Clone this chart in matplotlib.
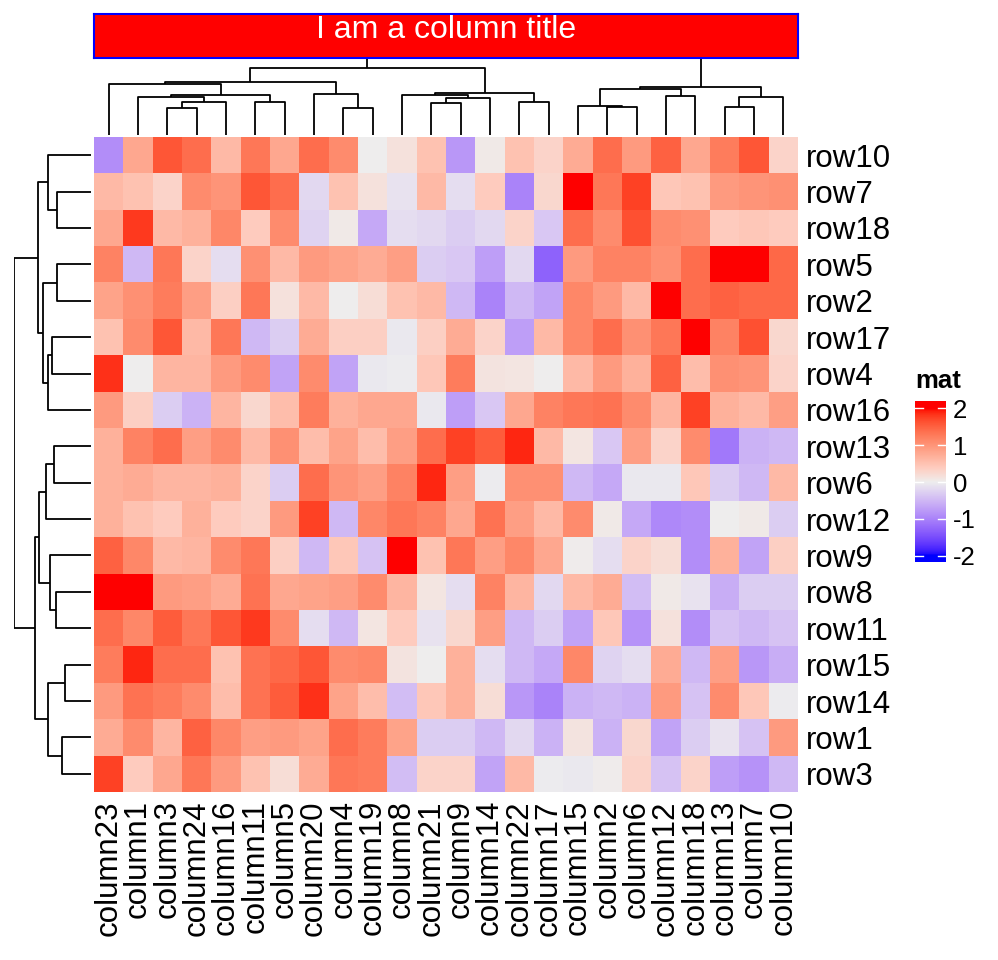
import numpy as np
import matplotlib
matplotlib.use("Agg")
import matplotlib.pyplot as plt
from matplotlib.colors import ListedColormap, Normalize

plt.rcParams['font.family'] = ['Liberation Sans', 'DejaVu Sans']

# 数据：行、列顺序与聚类后的显示顺序一致
row_labels = ['row10', 'row7', 'row18', 'row5', 'row2', 'row17', 'row4', 'row16', 'row13',
              'row6', 'row12', 'row9', 'row8', 'row11', 'row15', 'row14', 'row1', 'row3']
col_labels = ['column23', 'column1', 'column3', 'column24', 'column16', 'column11', 'column5',
              'column20', 'column4', 'column19', 'column8', 'column21', 'column9', 'column14',
              'column22', 'column17', 'column15', 'column2', 'column6', 'column12', 'column18',
              'column13', 'column7', 'column10']
values = [
    [-0.9, 0.8, 1.6, 1.4, 0.6, 1.3, 0.8, 1.4, 1.1, 0.0, 0.15, 0.5, -0.8, 0.05, 0.5, 0.3, 0.75, 1.4, 0.95, 1.5, 0.8, 1.25, 1.6, 0.3],
    [0.6, 0.5, 0.3, 1.1, 1.0, 1.6, 1.4, -0.2, 0.5, 0.15, -0.1, 0.6, -0.15, 0.4, -1.0, 0.25, 2.2, 1.3, 1.75, 0.45, 0.5, 0.95, 1.0, 1.05],
    [0.8, 1.8, 0.6, 0.7, 1.15, 0.4, 1.1, -0.25, 0.05, -0.65, -0.15, -0.2, -0.3, -0.2, 0.3, -0.35, 1.4, 1.1, 1.65, 1.1, 1.05, 0.4, 0.45, 0.4],
    [1.2, -0.5, 1.3, 0.3, -0.15, 1.05, 0.6, 0.95, 0.85, 0.75, 0.9, -0.3, -0.35, -0.75, -0.2, -1.3, 0.95, 1.2, 1.2, 1.05, 1.4, 2.2, 2.2, 1.45],
    [0.85, 1.05, 1.25, 0.9, 0.35, 1.3, 0.15, 0.6, 0.0, 0.2, 0.5, 0.6, -0.5, -1.0, -0.5, -0.7, 1.15, 0.95, 0.6, 2.1, 1.4, 1.5, 1.45, 1.45],
    [0.5, 1.1, 1.6, 0.6, 1.3, -0.5, -0.3, 0.75, 0.35, 0.35, -0.05, 0.35, 0.75, 0.3, -0.75, 0.6, 1.15, 1.4, 1.05, 1.3, 2.1, 1.2, 1.65, 0.25],
    [1.85, 0.0, 0.65, 0.65, 0.95, 1.1, -0.7, 1.1, -0.7, -0.05, -0.03, 0.45, 1.25, 0.12, 0.1, 0.0, 0.6, 0.95, 0.7, 1.5, 0.55, 1.05, 1.0, 0.3],
    [0.95, 0.35, -0.3, -0.55, 0.65, 0.25, 0.55, 1.25, 0.7, 0.8, 0.8, -0.05, -0.75, -0.35, 0.8, 1.2, 1.3, 1.35, 1.1, 0.65, 1.75, 0.7, 0.6, 0.9],
    [0.7, 1.2, 1.4, 0.9, 1.1, 0.6, 1.05, 0.55, 0.85, 0.55, 0.9, 1.4, 1.75, 1.55, 1.9, 0.6, 0.1, -0.35, 0.9, 0.3, 1.1, -1.1, -0.55, -0.5],
    [0.7, 0.75, 0.65, 0.65, 0.7, 0.3, -0.3, 1.4, 1.0, 0.9, 1.2, 1.9, 0.9, -0.02, 1.05, 1.05, -0.5, -0.65, -0.05, -0.05, 0.45, -0.3, -0.5, 0.6],
    [0.7, 0.5, 0.4, 0.7, 0.4, 0.3, 0.95, 1.75, -0.5, 1.15, 1.3, 1.2, 0.8, 1.35, 0.9, 0.6, 1.1, 0.05, -0.65, -0.95, -0.9, 0.0, 0.05, -0.3],
    [1.5, 1.15, 0.6, 0.65, 1.1, 1.3, 0.35, -0.5, 0.45, -0.4, 2.0, 0.5, 1.3, 0.9, 1.15, 0.8, 0.02, -0.15, 0.3, 0.2, -0.9, 0.7, -0.7, 0.35],
    [2.0, 2.3, 0.95, 0.9, 0.75, 1.35, 0.8, 0.85, 0.9, 1.1, 0.65, 0.1, -0.15, 1.2, 0.65, -0.2, 0.6, 0.75, -0.45, 0.05, -0.1, -0.6, -0.3, -0.3],
    [1.4, 1.15, 1.55, 1.3, 1.6, 1.8, 1.1, -0.15, -0.5, 0.1, 0.4, -0.1, 0.25, 0.9, -0.5, -0.3, -0.7, 0.45, -0.85, 0.15, -0.9, -0.4, -0.5, -0.4],
    [1.25, 1.9, 1.4, 1.4, 0.5, 1.35, 1.45, 1.6, 1.1, 1.15, 0.12, 0.0, 0.7, -0.15, -0.5, -0.65, 1.15, -0.25, -0.15, 0.75, -0.5, 0.9, -0.8, -0.6],
    [0.95, 1.35, 1.25, 1.1, 0.55, 1.35, 1.55, 1.85, 0.85, 0.55, -0.45, 0.45, 0.7, 0.2, -0.8, -1.0, -0.55, -0.5, -0.55, 0.95, -0.4, 1.1, 0.45, -0.02],
    [0.75, 1.1, 0.65, 1.5, 1.15, 0.9, 0.95, 0.85, 1.4, 1.25, 0.85, -0.3, -0.3, -0.5, -0.2, -0.55, 0.12, -0.55, 0.25, -0.7, -0.3, -0.1, -0.4, 0.95],
    [1.75, 0.4, 0.8, 1.3, 0.95, 0.5, 0.2, 0.75, 1.3, 1.25, -0.45, 0.3, 0.3, -0.7, 0.6, -0.02, -0.05, 0.03, 0.3, -0.4, 0.3, -0.75, -0.85, -0.5],
]

# 聚类树：(子节点a, 子节点b, 合并高度)，叶子编号即显示顺序，新节点依次编号
col_merges = [(2, 3, 26.7), (24, 4, 33.3), (1, 25, 37.7), (5, 6, 32.7), (26, 27, 40.0),
              (0, 28, 51.5), (8, 9, 27.3), (7, 30, 41.0), (29, 31, 52.7), (11, 12, 31.7),
              (33, 13, 37.3), (10, 34, 40.5), (14, 15, 32.7), (35, 36, 41.7), (32, 37, 66.7),
              (17, 18, 28.3), (16, 39, 29.3), (19, 20, 39.3), (40, 41, 45.7), (21, 22, 28.3),
              (43, 23, 37.7), (42, 44, 48.3), (38, 45, 77.0)]
row_merges = [(1, 2, 33.7), (0, 18, 42.7), (3, 4, 33.7), (5, 6, 39.3), (21, 7, 43.3),
              (20, 22, 47.7), (19, 23, 53.3), (8, 9, 36.7), (25, 10, 45.3), (12, 13, 35.0),
              (11, 27, 41.0), (26, 28, 51.7), (14, 15, 26.0), (16, 17, 29.3), (30, 31, 43.3),
              (29, 32, 56.0), (24, 33, 77.0)]

legend_ticks = [-2, -1, 0, 1, 2]
color_breaks = [-2, 0, 2]
color_list = ['#0000FF', '#EEEEEE', '#FF0000']


def srgb_to_lab(hexcol):
    c = np.array(matplotlib.colors.to_rgb(hexcol))
    lin = np.where(c <= 0.04045, c / 12.92, ((c + 0.055) / 1.055) ** 2.4)
    m = np.array([[0.4124, 0.3576, 0.1805], [0.2126, 0.7152, 0.0722], [0.0193, 0.1192, 0.9505]])
    xyz = m @ lin / np.array([0.95047, 1.0, 1.08883])
    f = np.where(xyz > 0.008856, np.cbrt(xyz), 7.787 * xyz + 16 / 116)
    return np.array([116 * f[1] - 16, 500 * (f[0] - f[1]), 200 * (f[1] - f[2])])


def lab_to_srgb(lab):
    fy = (lab[1 - 1] + 16) / 116
    fx = fy + lab[1] / 500
    fz = fy - lab[2] / 200
    f = np.array([fx, fy, fz])
    xyz = np.where(f > 0.2069, f ** 3, (f - 16 / 116) / 7.787) * np.array([0.95047, 1.0, 1.08883])
    minv = np.array([[3.2406, -1.5372, -0.4986], [-0.9689, 1.8758, 0.0415], [0.0557, -0.2040, 1.0570]])
    lin = minv @ xyz
    lin = np.clip(lin, 0, 1)
    c = np.where(lin <= 0.0031308, 12.92 * lin, 1.055 * lin ** (1 / 2.4) - 0.055)
    return np.clip(c, 0, 1)


# 类似 colorRamp2 的 LAB 空间插值
labs = [srgb_to_lab(c) for c in color_list]
grid = np.linspace(color_breaks[0], color_breaks[-1], 256)
cols = []
for v in grid:
    k = 0 if v < color_breaks[1] else 1
    t = (v - color_breaks[k]) / (color_breaks[k + 1] - color_breaks[k])
    cols.append(lab_to_srgb(labs[k] * (1 - t) + labs[k + 1] * t))
cmap = ListedColormap(cols)
norm = Normalize(vmin=color_breaks[0], vmax=color_breaks[-1], clip=True)

W, H = 998, 960
fig = plt.figure(figsize=(W / 100, H / 100), dpi=100)


def px_axes(x0, y0, x1, y1):
    return fig.add_axes([x0 / W, 1 - y1 / H, (x1 - x0) / W, (y1 - y0) / H])


def dendro_lines(merges, n):
    pos = list(range(n))
    hgt = [0.0] * n
    segs = []
    for a, b, h in merges:
        segs.append(([pos[a], pos[a], pos[b], pos[b]], [hgt[a], h, h, hgt[b]]))
        pos.append((pos[a] + pos[b]) / 2)
        hgt.append(h)
    return segs


mat = np.array(values)
nr, nc = mat.shape
hx0, hy0, hx1, hy1 = 94, 137, 798, 792

# 热图主体
ax = px_axes(hx0, hy0, hx1, hy1)
ax.imshow(mat, cmap=cmap, norm=norm, aspect='auto', interpolation='nearest',
          extent=(-0.5, nc - 0.5, nr - 0.5, -0.5))
ax.set_xlim(-0.5, nc - 0.5)
ax.set_ylim(nr - 0.5, -0.5)
ax.axis('off')

for i, lab in enumerate(row_labels):
    y = hy0 + (i + 0.5) * (hy1 - hy0) / nr
    fig.text(806 / W, 1 - y / H, lab, fontsize=22.5, ha='left', va='center_baseline')
for j, lab in enumerate(col_labels):
    x = hx0 + (j + 0.5) * (hx1 - hx0) / nc
    fig.text(x / W, 1 - 800 / H, lab, fontsize=22.5, rotation=90, ha='center', va='top')

# 列聚类树
axc = px_axes(hx0, 58, hx1, 135)
for xs, ys in dendro_lines(col_merges, nc):
    axc.plot(xs, ys, color='black', lw=1.3, solid_capstyle='butt')
axc.set_xlim(-0.5, nc - 0.5)
axc.set_ylim(0, col_merges[-1][2])
axc.axis('off')

# 行聚类树
axr = px_axes(14, hy0, 91, hy1)
for xs, ys in dendro_lines(row_merges, nr):
    axr.plot(ys, xs, color='black', lw=1.3, solid_capstyle='butt')
axr.set_xlim(row_merges[-1][2], 0)
axr.set_ylim(nr - 0.5, -0.5)
axr.axis('off')

# 列标题
axt = px_axes(hx0, 14, hx1, 58)
axt.set_facecolor('red')
axt.set_xticks([])
axt.set_yticks([])
for s in axt.spines.values():
    s.set_color('blue')
    s.set_linewidth(1.5)
fig.text((hx0 + hx1) / 2 / W, 1 - 38.5 / H, 'I am a column title', color='white',
         fontsize=23, ha='center', va='baseline')

# 图例
lo, hi = -2.17, 2.2
axl = px_axes(915, 401, 946, 562)
grad = np.linspace(hi, lo, 200).reshape(-1, 1)
axl.imshow(grad, cmap=cmap, norm=norm, aspect='auto', extent=(0, 1, lo, hi))
for t in legend_ticks:
    axl.plot([0, 0.26], [t, t], color='white', lw=1)
    axl.plot([0.74, 1], [t, t], color='white', lw=1)
axl.set_xlim(0, 1)
axl.set_ylim(lo, hi)
axl.axis('off')
for t in legend_ticks:
    y = 401 + (hi - t) / (hi - lo) * (562 - 401)
    fig.text(953 / W, 1 - y / H, str(t), fontsize=18.5, ha='left', va='center_baseline')
fig.text(915 / W, 1 - 388 / H, 'mat', fontsize=18.5, fontweight='bold', ha='left', va='baseline')

fig.savefig('out.png', dpi=100)
plt.close(fig)
